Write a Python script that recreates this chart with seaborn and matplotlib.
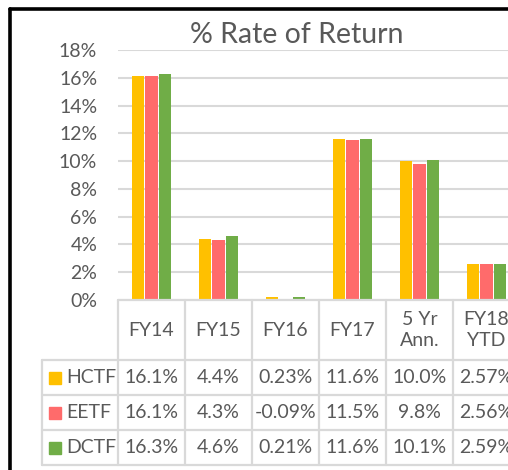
import pandas as pd
import matplotlib.pyplot as plt
import seaborn as sns
from matplotlib.lines import Line2D
from matplotlib.patches import Rectangle
from matplotlib.ticker import FuncFormatter

periods = ['FY14', 'FY15', 'FY16', 'FY17', '5 Yr\nAnn.', 'FY18\nYTD']
funds = ['HCTF', 'EETF', 'DCTF']
hctf = [16.1, 4.4, 0.23, 11.6, 10.0, 2.57]
eetf = [16.1, 4.3, -0.09, 11.5, 9.8, 2.56]
dctf = [16.3, 4.6, 0.21, 11.6, 10.1, 2.59]
labels = {
    'HCTF': ['16.1%', '4.4%', '0.23%', '11.6%', '10.0%', '2.57%'],
    'EETF': ['16.1%', '4.3%', '-0.09%', '11.5%', '9.8%', '2.56%'],
    'DCTF': ['16.3%', '4.6%', '0.21%', '11.6%', '10.1%', '2.59%'],
}
colors = ['#FFC000', '#FF6B6B', '#70AD47']

txt = '#595959'
grid = '#D9D9D9'

rows = []
for f, vals in zip(funds, [hctf, eetf, dctf]):
    for p, v in zip(periods, vals):
        rows.append({'period': p, 'fund': f, 'ret': v / 100})
df = pd.DataFrame(rows)

sns.set_theme(style='white')
plt.rcParams['font.family'] = ['Lato', 'DejaVu Sans']

W, H = 508, 470
fig = plt.figure(figsize=(W / 100, H / 100), dpi=100)

def box(l, t, r, b):
    return [l / W, 1 - b / H, (r - l) / W, (b - t) / H]

# bar area
ax = fig.add_axes(box(118, 50, 520, 300))
sns.barplot(data=df, x='period', y='ret', hue='fund', order=periods,
            hue_order=funds, palette=colors, saturation=1, width=0.62, gap=0.13,
            edgecolor='none', legend=False, ax=ax)
ax.set_xlim(-0.5, 5.5)
ax.set_ylim(0, 0.18)
ax.set_yticks([i * 0.02 for i in range(10)])
ax.yaxis.set_major_formatter(FuncFormatter(lambda v, _: f'{v * 100:.0f}%'))
ax.tick_params(axis='y', length=0, pad=15, labelsize=14, labelcolor=txt)
ax.set_xticks([])
ax.set_xlabel('')
ax.set_ylabel('')
ax.grid(axis='y', color=grid, lw=1.5)
ax.set_axisbelow(True)
for s in ax.spines.values():
    s.set_visible(False)

fig.text(297 / W, 1 - 35 / H, '% Rate of Return', ha='center', va='center',
         fontsize=20.5, color=txt)

# data table below the bars
tab = fig.add_axes(box(42, 300, 520, 465))
leg_w = 76 / 67
tab.set_xlim(-0.5 - leg_w, 5.5)
tab.set_ylim(165, 0)
tab.axis('off')
lw = 1.6
ybounds = [0, 60, 95, 130, 165]
tab.plot([-0.5, 5.5], [0, 0], color=grid, lw=lw, clip_on=False)
for y in ybounds[1:]:
    tab.plot([-0.5 - leg_w, 5.5], [y, y], color=grid, lw=lw, clip_on=False)
tab.plot([-0.5 - leg_w] * 2, [60, 165], color=grid, lw=lw, clip_on=False)
for i in range(7):
    tab.plot([i - 0.5] * 2, [0, 165], color=grid, lw=lw, clip_on=False)

for i, p in enumerate(periods):
    tab.text(i, 30, p, ha='center', va='center', fontsize=14, color=txt,
             linespacing=1.35)

for r, (f, c) in enumerate(zip(funds, colors)):
    yc = (ybounds[r + 1] + ybounds[r + 2]) / 2
    x0 = -0.5 - leg_w + 7 / 67
    tab.add_patch(Rectangle((x0, yc - 6), 12 / 67, 12, color=c, clip_on=False))
    tab.text(x0 + 17 / 67, yc, f, ha='left', va='center', fontsize=14, color=txt)
    for i, s in enumerate(labels[f]):
        tab.text(i, yc, s, ha='center', va='center', fontsize=14, color=txt)

# outer chart border (cropped on right and bottom)
fig.add_artist(Line2D([9.5 / W, 1.1], [1 - 9 / H] * 2, color='black', lw=2.6,
                      transform=fig.transFigure))
fig.add_artist(Line2D([9.5 / W] * 2, [-0.1, 1 - 9 / H], color='black', lw=2.6,
                      transform=fig.transFigure))

fig.savefig('out.png', dpi=100)
